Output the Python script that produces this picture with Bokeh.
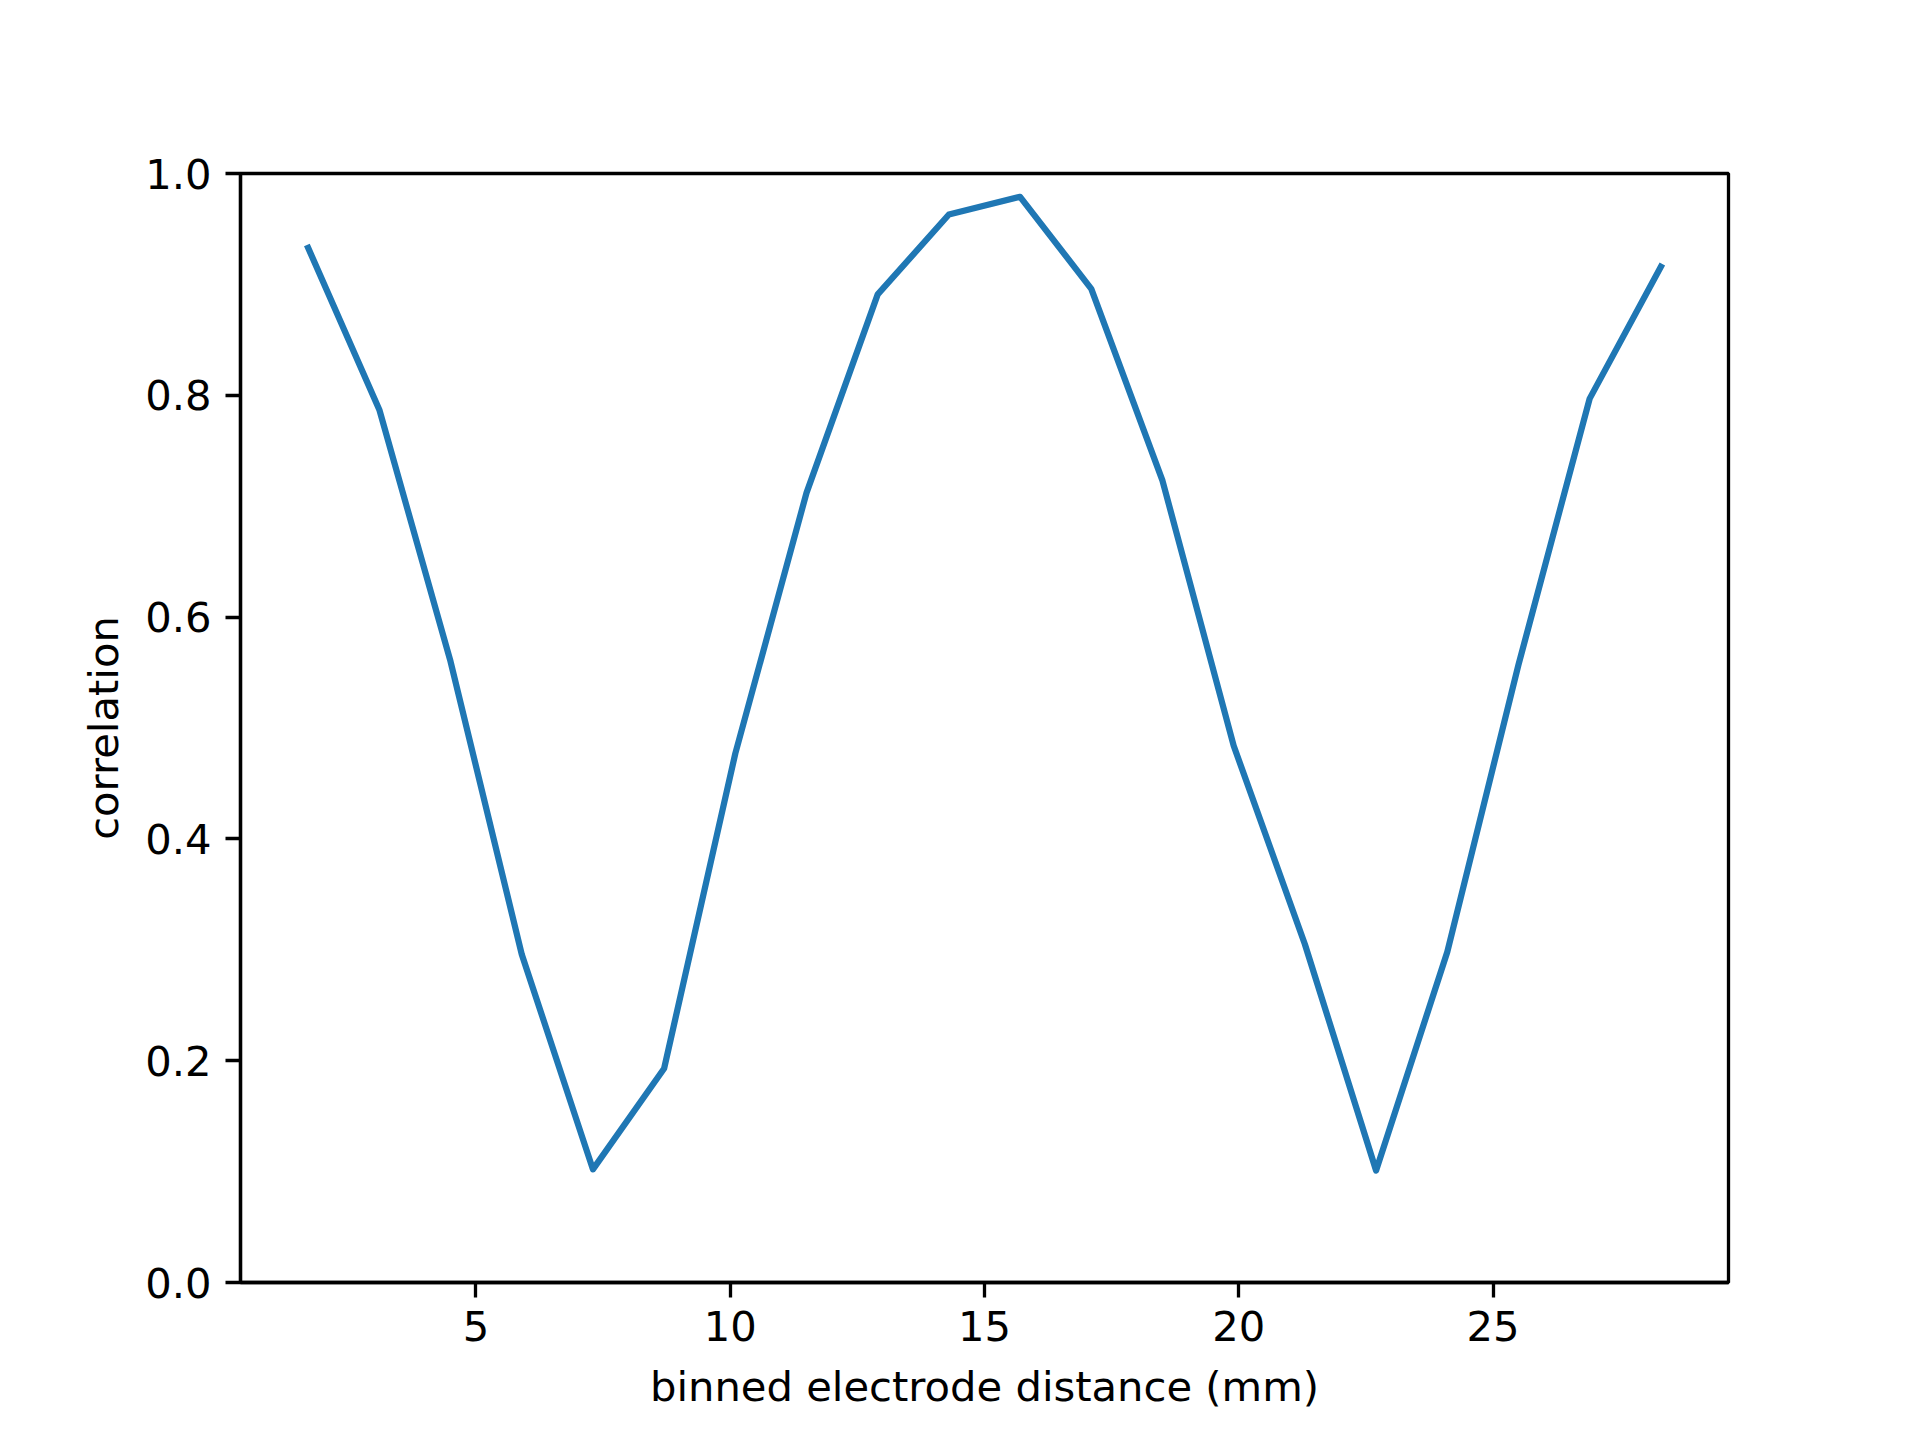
from bokeh.plotting import figure
from bokeh.models import Range1d, FixedTicker, PrintfTickFormatter
from bokeh.embed import file_html
from bokeh.resources import INLINE

# binned electrode distance (mm)
distance = [1.7, 3.1, 4.5, 5.9, 7.3, 8.7, 10.1, 11.5, 12.9, 14.3,
            15.7, 17.1, 18.5, 19.9, 21.3, 22.7, 24.1, 25.5, 26.9, 28.3]
# correlation
correlation = [0.933, 0.787, 0.560, 0.296, 0.102, 0.193, 0.477, 0.712, 0.891, 0.963,
               0.979, 0.896, 0.723, 0.484, 0.305, 0.101, 0.298, 0.557, 0.797, 0.916]

x_ticks = [5, 10, 15, 20, 25]
y_ticks = [0.0, 0.2, 0.4, 0.6, 0.8, 1.0]

FONT = "DejaVu Sans"
FS = "41.7px"
LW = 3.3

p = figure(
    frame_width=1488, frame_height=1109,
    min_border_left=240, min_border_right=184,
    min_border_top=173, min_border_bottom=150,
    x_range=Range1d(0.37, 29.63), y_range=Range1d(0.0, 1.0),
    output_backend="svg", toolbar_location=None,
    background_fill_color="white", border_fill_color="white",
)

p.line(distance, correlation, line_color="#1f77b4", line_width=6.25,
       line_join="round", line_cap="square")

p.grid.visible = False
p.outline_line_color = "black"
p.outline_line_width = LW

p.xaxis.ticker = FixedTicker(ticks=x_ticks)
p.yaxis.ticker = FixedTicker(ticks=y_ticks)
p.yaxis.formatter = PrintfTickFormatter(format="%.1f")

p.xaxis.axis_label = "binned electrode distance (mm)"
p.yaxis.axis_label = "correlation"

for ax in (p.xaxis, p.yaxis):
    ax.axis_line_color = "black"
    ax.axis_line_width = LW
    ax.major_tick_line_color = "black"
    ax.major_tick_line_width = LW
    ax.major_tick_out = 15
    ax.major_tick_in = 0
    ax.minor_tick_line_color = None
    ax.major_label_text_font = FONT
    ax.major_label_text_font_size = FS
    ax.major_label_text_color = "black"
    ax.axis_label_text_font = FONT
    ax.axis_label_text_font_size = FS
    ax.axis_label_text_font_style = "normal"
    ax.axis_label_text_color = "black"

p.xaxis.major_label_standoff = 13
p.xaxis.axis_label_standoff = 18
p.yaxis.major_label_standoff = 14
p.yaxis.axis_label_standoff = 14

open("out.html", "w").write(file_html(p, INLINE))
